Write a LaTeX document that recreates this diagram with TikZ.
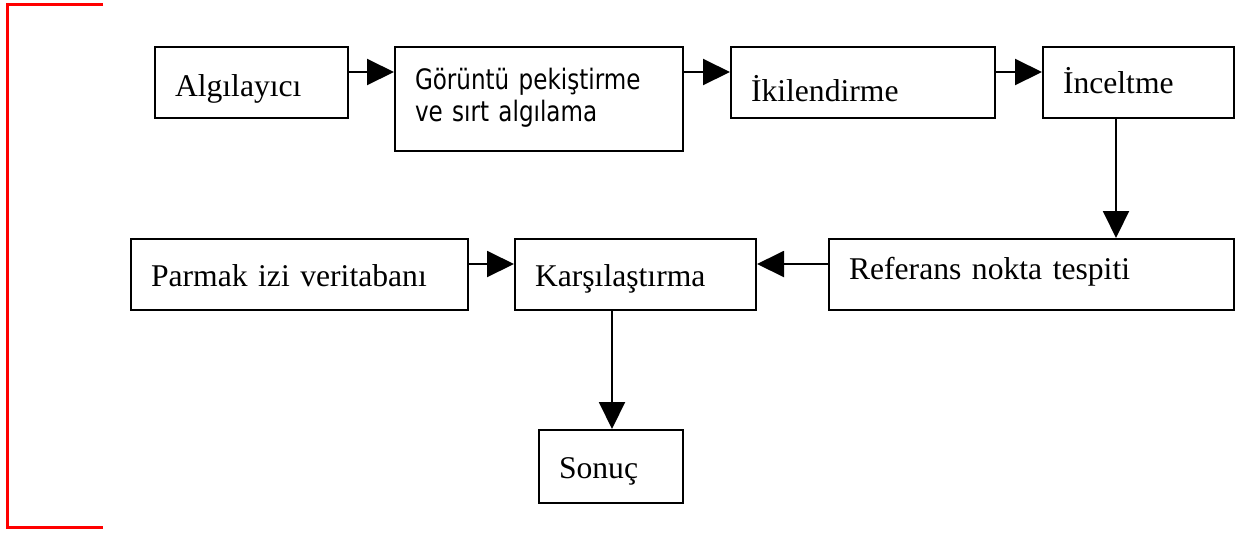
\documentclass[tikz,border=0pt]{standalone}
\usepackage{fontspec}
\setmainfont{Liberation Serif}
\newfontfamily\tahoma[FakeStretch=0.82]{DejaVu Sans}
\usetikzlibrary{arrows.meta}

\begin{document}
\begin{tikzpicture}[
  font=\fontsize{18}{21}\selectfont,
  blok/.style={draw, line width=0.04cm, anchor=north west, align=left,
               inner xsep=0.4cm, inner ysep=0pt},
  ok/.style={-{Triangle[length=0.54cm,width=0.52cm]}, line width=0.04cm}
]
\useasboundingbox (0,0) rectangle (24.8,-10.64);
\draw[red, line width=0.06cm] (2.06,-0.094) -- (0.146,-0.094) -- (0.146,-10.54) -- (2.06,-10.54);

\node[blok, text width=3.06cm, text height=0.98cm, text depth=0.44cm] (alg) at (3.08,-0.92) {Algılayıcı};
\node[blok, text width=4.96cm, text height=0.84cm, text depth=1.24cm,
      font=\tahoma\fontsize{16}{18.4}\selectfont] (gor) at (7.88,-0.92) {Görüntü pekiştirme\\ve sırt algılama};
\node[blok, text width=4.48cm, text height=1.08cm, text depth=0.34cm] (iki) at (14.6,-0.92) {İkilendirme};
\node[blok, text width=3.02cm, text height=0.92cm, text depth=0.50cm] (inc) at (20.84,-0.92) {İnceltme};
\node[blok, text width=7.30cm, text height=0.80cm, text depth=0.62cm] (ref) at (16.56,-4.76) {Referans nokta tespiti};
\node[blok, text width=4.02cm, text height=0.94cm, text depth=0.48cm] (kar) at (10.28,-4.76) {Karşılaştırma};
\node[blok, text width=5.94cm, text height=0.94cm, text depth=0.48cm] (par) at (2.6,-4.76) {Parmak izi veritabanı};
\node[blok, text width=2.08cm, text height=0.96cm, text depth=0.50cm] (son) at (10.76,-8.58) {Sonuç};

\draw[ok] ([yshift=2.1mm]alg.east) -- ([yshift=2.1mm]alg.east -| gor.west);
\draw[ok] ([yshift=2.1mm]iki.west -| gor.east) -- ([yshift=2.1mm]iki.west);
\draw[ok] ([yshift=2.1mm]iki.east) -- ([yshift=2.1mm]inc.west);
\draw[ok] ([xshift=-4.5mm]inc.south) -- ([xshift=-4.5mm]inc.south |- ref.north);
\draw[ok] ([yshift=2.1mm]ref.west) -- ([yshift=2.1mm]kar.east);
\draw[ok] ([yshift=2.1mm]par.east) -- ([yshift=2.1mm]kar.west);
\draw[ok] ([xshift=-4.7mm]kar.south) -- ([xshift=-4.7mm]kar.south |- son.north);
\end{tikzpicture}
\end{document}
